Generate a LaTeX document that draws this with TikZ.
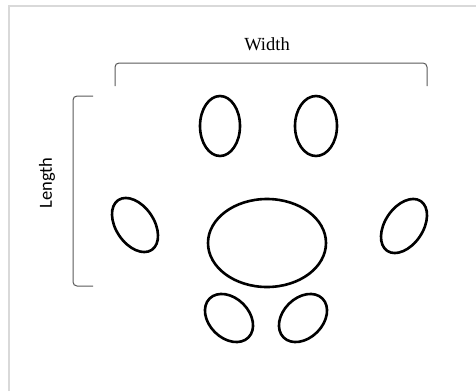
\documentclass[tikz,border=0pt]{standalone}
\usepackage{fontspec}
\setmainfont{Liberation Serif}
\newfontfamily\lenfont{Carlito}
\usetikzlibrary{shapes.geometric}
\tikzset{
  paw/.style={draw, ellipse, line width=2.6pt, inner sep=0pt},
  bracket/.style={draw=black!65, line width=1pt, rounded corners=4pt},
  frame/.style={draw=black!15, line width=2pt}
}
\begin{document}
\begin{tikzpicture}[x=1pt,y=-1pt]
  \useasboundingbox (0,0) rectangle (476,391);
  % Rahmen
  \draw[frame] (9,391) -- (9,6) -- (476,6);
  % Ballen
  \node[paw, minimum width=40pt, minimum height=60pt] (toeA) at (220,126) {};
  \node[paw, minimum width=42pt, minimum height=60pt] (toeB) at (316,126) {};
  \node[paw, minimum width=60pt, minimum height=38pt, rotate=-56] (toeL) at (135,225) {};
  \node[paw, minimum width=60pt, minimum height=38pt, rotate=56] (toeR) at (404,226) {};
  \node[paw, minimum width=118pt, minimum height=88pt] (pad) at (267,243) {};
  \node[paw, minimum width=55pt, minimum height=40pt, rotate=-45] (heelA) at (229,318) {};
  \node[paw, minimum width=55pt, minimum height=40pt, rotate=45] (heelB) at (303,318) {};
  % Klammern
  \coordinate (wA) at (115,86);
  \coordinate (wB) at (427,86);
  \coordinate (lA) at (93,96);
  \coordinate (lB) at (93,286);
  \draw[bracket] (wA) -- (115,63) -- (427,63) -- (wB);
  \draw[bracket] (lA) -- (73,96) -- (73,286) -- (lB);
  % Beschriftungen
  \node[anchor=base, font=\fontsize{18.5}{20}\selectfont] (width) at (267,50.5) {Width};
  \node[rotate=90, font=\lenfont\fontsize{18.5}{20}\selectfont] (length) at (47,183) {Length};
\end{tikzpicture}
\end{document}
